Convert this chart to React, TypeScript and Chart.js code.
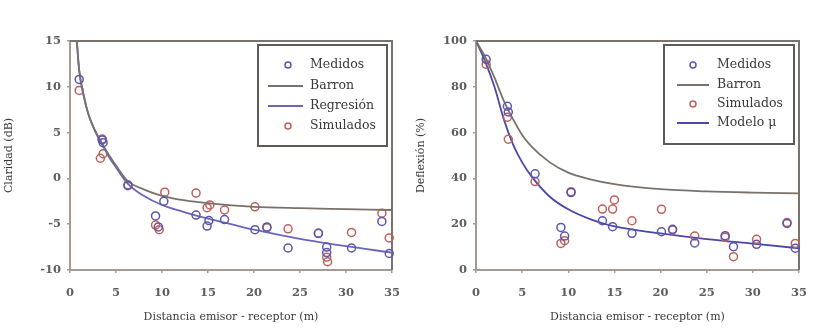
import React, { useEffect, useRef } from 'react';
import { Chart, registerables } from 'chart.js';
Chart.register(...registerables);

const FONT = "'DejaVu Serif', 'Liberation Serif', serif";

// ---- Left chart: Claridad (dB) ----
const clarMedDist = [1.0, 3.5, 3.6, 6.3, 9.3, 9.6, 10.2, 13.7, 14.9, 15.1, 16.8, 20.1, 21.4, 23.7, 27.0, 27.9, 27.9, 30.6, 33.9, 34.7];
const clarMedVal = [10.8, 4.2, 3.9, -0.8, -4.1, -5.3, -2.5, -4.0, -5.2, -4.6, -4.5, -5.6, -5.3, -7.6, -6.0, -7.5, -8.1, -7.6, -4.7, -8.2];
const clarSimDist = [1.0, 3.3, 3.6, 3.5, 6.3, 9.3, 9.7, 10.3, 13.7, 14.9, 15.2, 16.8, 20.1, 21.4, 23.7, 27.0, 27.9, 28.0, 30.6, 33.9, 34.7];
const clarSimVal = [9.6, 2.2, 2.7, 4.3, -0.7, -5.1, -5.6, -1.5, -1.6, -3.2, -2.9, -3.45, -3.1, -5.4, -5.5, -6.0, -8.6, -9.1, -5.9, -3.8, -6.5];
const clarBarronDist = [0.7, 1.0, 1.5, 2.0, 2.7, 3.5, 4.2, 5.0, 6.3, 8.0, 10.0, 12.5, 15.0, 20.0, 25.0, 30.0, 35.0];
const clarBarronVal = [15.5, 11.8, 9.0, 7.0, 5.3, 3.8, 2.6, 1.4, -0.3, -1.2, -1.9, -2.4, -2.7, -3.1, -3.25, -3.35, -3.45];
const clarRegDist = [0.7, 1.0, 1.5, 2.0, 2.7, 3.5, 4.2, 5.0, 6.3, 8.0, 10.0, 12.5, 15.0, 17.5, 20.0, 25.0, 30.0, 35.0];
const clarRegVal = [15.5, 11.8, 9.0, 7.0, 5.2, 3.7, 2.4, 1.2, -0.6, -1.9, -2.9, -3.7, -4.4, -5.0, -5.6, -6.6, -7.4, -8.1];

// ---- Right chart: Deflexión (%) ----
const defMedDist = [1.1, 3.4, 3.5, 6.4, 9.2, 9.6, 10.3, 13.7, 14.8, 16.9, 20.1, 21.3, 23.7, 27.0, 27.9, 30.4, 33.7, 34.6];
const defMedVal = [92, 71.5, 69, 42, 18.6, 14.8, 33.8, 21.5, 18.9, 16.0, 16.7, 17.8, 11.8, 15.0, 10.2, 11.2, 20.3, 9.5];
const defSimDist = [1.1, 3.4, 3.5, 6.4, 9.2, 9.6, 10.3, 13.7, 14.8, 15.0, 16.9, 20.1, 21.3, 23.7, 27.0, 27.9, 30.4, 33.7, 34.6];
const defSimVal = [89.8, 66.7, 57.1, 38.6, 11.6, 12.8, 34.2, 26.6, 26.6, 30.6, 21.5, 26.5, 17.5, 14.8, 14.3, 5.8, 13.4, 20.7, 11.6];
const defBarronDist = [0, 1, 2, 3, 4, 5, 6, 8, 10, 12.5, 15, 20, 25, 30, 35];
const defBarronVal = [100, 93, 84, 74, 66, 59, 54, 47, 42.5, 39.5, 37.5, 35.3, 34.3, 33.8, 33.5];
const defModelDist = [0, 1, 2, 3, 4, 5, 6, 8, 10, 12.5, 15, 20, 25, 30, 35];
const defModelVal = [100, 91, 80, 66, 55, 47, 41, 32, 26.5, 22, 19, 16, 13.5, 11.5, 9.5];

const xTicks = [0, 5, 10, 15, 20, 25, 30, 35];
const clarTicks = [-10, -5, 0, 5, 10, 15];
const defTicks = [0, 20, 40, 60, 80, 100];

const BLUE = '#5a56ad';
const RED = '#c0605a';
const GRAYLINE = '#7a716b';
const REGLINE = '#6a66b8';
const MODEL = '#4a48a8';
const AXIS = '#a59b93';
const FRAME = '#7a726c';

const pts = (xs: number[], ys: number[]) => xs.map((x, i) => ({ x, y: ys[i] }));

const scatterDs = (label: string, xs: number[], ys: number[], color: string) => ({
  label,
  data: pts(xs, ys),
  showLine: false,
  clip: false,
  pointRadius: 4,
  pointBorderWidth: 1.5,
  pointBackgroundColor: 'rgba(0,0,0,0)',
  pointBorderColor: color,
  borderColor: color,
  backgroundColor: 'rgba(0,0,0,0)',
  kind: 'point',
});

const lineDs = (label: string, xs: number[], ys: number[], color: string) => ({
  label,
  data: pts(xs, ys),
  showLine: true,
  pointRadius: 0,
  borderWidth: 1.8,
  borderColor: color,
  backgroundColor: color,
  cubicInterpolationMode: 'monotone',
  kind: 'line',
});

const framePlugin = {
  id: 'frame',
  beforeDatasetsDraw(chart: any) {
    const { ctx, chartArea } = chart;
    ctx.save();
    ctx.strokeStyle = FRAME;
    ctx.lineWidth = 2;
    ctx.beginPath();
    ctx.moveTo(chartArea.left, chartArea.top);
    ctx.lineTo(chartArea.right, chartArea.top);
    ctx.lineTo(chartArea.right, chartArea.bottom);
    ctx.stroke();
    ctx.restore();
  },
};

const legendPlugin = {
  id: 'boxLegend',
  afterDraw(chart: any, _args: any, opts: any) {
    const { ctx, chartArea } = chart;
    const w = opts.width, h = opts.height;
    const bx = chartArea.right - 5 - w;
    const by = chartArea.top + 4;
    ctx.save();
    ctx.fillStyle = '#ffffff';
    ctx.fillRect(bx, by, w, h);
    ctx.strokeStyle = '#5e5a58';
    ctx.lineWidth = 2;
    ctx.strokeRect(bx, by, w, h);
    ctx.font = `12.5px ${FONT}`;
    ctx.textBaseline = 'middle';
    ctx.textAlign = 'left';
    const rows = opts.rows as number[];
    chart.data.datasets.forEach((ds: any, i: number) => {
      const y = by + rows[i];
      if (ds.kind === 'point') {
        ctx.strokeStyle = ds.pointBorderColor;
        ctx.lineWidth = 1.5;
        ctx.beginPath();
        ctx.arc(bx + opts.symX, y, 3, 0, Math.PI * 2);
        ctx.stroke();
      } else {
        ctx.strokeStyle = ds.borderColor;
        ctx.lineWidth = 2;
        ctx.beginPath();
        ctx.moveTo(bx + opts.lineX0, y);
        ctx.lineTo(bx + opts.lineX1, y);
        ctx.stroke();
      }
      ctx.fillStyle = '#3a3a3a';
      ctx.fillText(ds.label, bx + opts.textX, y);
    });
    ctx.restore();
  },
};

function makeOptions(p: {
  yTitle: string; yMin: number; yMax: number; yTicks: number[]; yWidth: number; padRight: number;
  legend: any;
}) {
  const tickFont = { family: FONT, size: 11.5, weight: 'bold' as const };
  return {
    animation: false,
    responsive: false,
    maintainAspectRatio: false,
    layout: { padding: { left: 0, top: 41, right: p.padRight, bottom: 0 } },
    plugins: {
      legend: { display: false },
      tooltip: { enabled: false },
      boxLegend: p.legend,
    },
    scales: {
      x: {
        type: 'linear',
        min: 0,
        max: 35,
        afterBuildTicks: (s: any) => { s.ticks = xTicks.map((v) => ({ value: v })); },
        afterFit: (s: any) => { s.height = 60; s.paddingLeft = 0; s.paddingRight = 0; },
        ticks: { color: '#5e5e5e', font: tickFont, padding: 13, maxRotation: 0 },
        grid: { drawOnChartArea: false, drawTicks: true, tickLength: 3, color: AXIS, lineWidth: 1.5 },
        border: { display: true, color: AXIS, width: 2 },
        title: {
          display: true,
          text: 'Distancia emisor - receptor (m)',
          color: '#3a3a3a',
          font: { family: FONT, size: 11 },
          padding: { top: 0, bottom: 6 },
        },
      },
      y: {
        type: 'linear',
        min: p.yMin,
        max: p.yMax,
        afterBuildTicks: (s: any) => { s.ticks = p.yTicks.map((v) => ({ value: v })); },
        afterFit: (s: any) => { s.width = p.yWidth; },
        ticks: { color: '#5e5e5e', font: tickFont, padding: 6 },
        grid: { drawOnChartArea: false, drawTicks: true, tickLength: 3, color: AXIS, lineWidth: 1.5 },
        border: { display: true, color: AXIS, width: 2 },
        title: {
          display: true,
          text: p.yTitle,
          color: '#3a3a3a',
          font: { family: FONT, size: 11 },
          padding: { top: 3, bottom: 0 },
        },
      },
    },
  } as any;
}

function ChartBox({ config }: { config: any }) {
  const ref = useRef<HTMLCanvasElement | null>(null);
  useEffect(() => {
    if (!ref.current) return;
    const chart = new Chart(ref.current, config);
    return () => chart.destroy();
  }, [config]);
  return <canvas ref={ref} width={412} height={330} style={{ display: 'block', width: 412, height: 330 }} />;
}

const leftConfig = {
  type: 'scatter',
  data: {
    datasets: [
      scatterDs('Medidos', clarMedDist, clarMedVal, BLUE),
      lineDs('Barron', clarBarronDist, clarBarronVal, GRAYLINE),
      lineDs('Regresión', clarRegDist, clarRegVal, REGLINE),
      scatterDs('Simulados', clarSimDist, clarSimVal, RED),
    ],
  },
  options: makeOptions({
    yTitle: 'Claridad (dB)', yMin: -10, yMax: 15, yTicks: clarTicks, yWidth: 70, padRight: 20,
    legend: { width: 129, height: 101, rows: [20, 41, 61, 81], symX: 30, lineX0: 10, lineX1: 45, textX: 52 },
  }),
  plugins: [framePlugin, legendPlugin],
};

const rightConfig = {
  type: 'scatter',
  data: {
    datasets: [
      scatterDs('Medidos', defMedDist, defMedVal, BLUE),
      lineDs('Barron', defBarronDist, defBarronVal, GRAYLINE),
      scatterDs('Simulados', defSimDist, defSimVal, RED),
      lineDs('Modelo μ', defModelDist, defModelVal, MODEL),
    ],
  },
  options: makeOptions({
    yTitle: 'Deflexión (%)', yMin: 0, yMax: 100, yTicks: defTicks, yWidth: 64, padRight: 25,
    legend: { width: 130, height: 99, rows: [20, 40, 59, 78], symX: 29, lineX0: 13, lineX1: 45, textX: 53 },
  }),
  plugins: [framePlugin, legendPlugin],
};

export default function App() {
  return (
    <div style={{ position: 'fixed', left: 0, top: 0, width: 824, height: 330, display: 'flex', background: '#ffffff' }}>
      <ChartBox config={leftConfig} />
      <ChartBox config={rightConfig} />
    </div>
  );
}
